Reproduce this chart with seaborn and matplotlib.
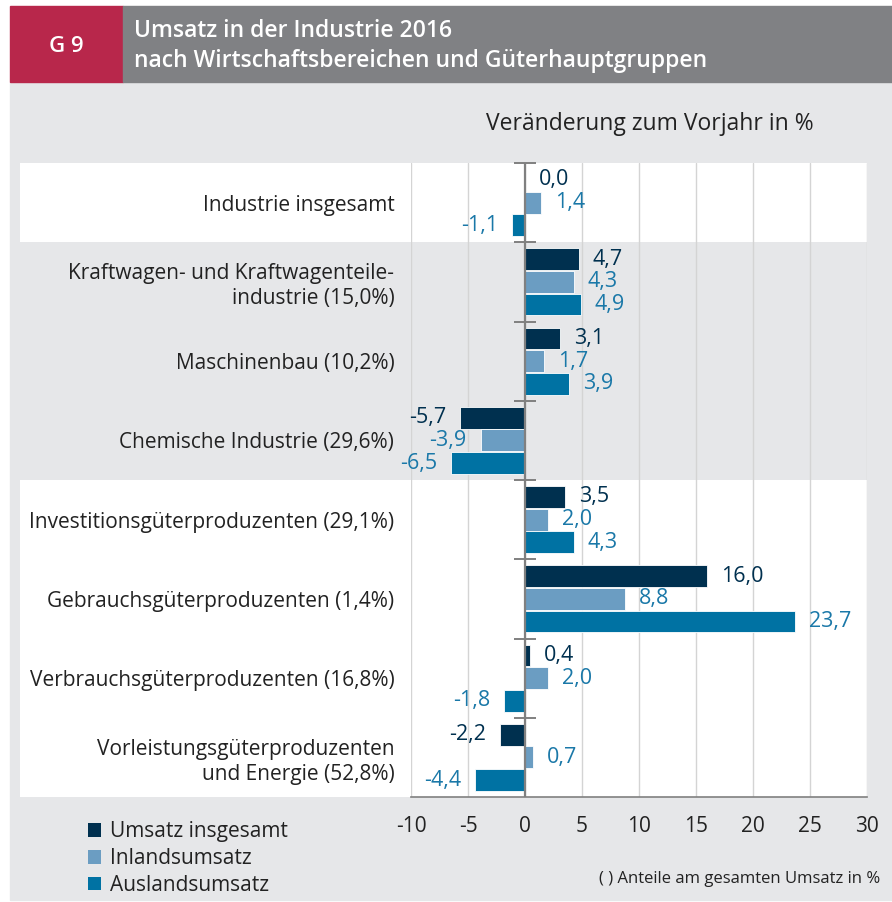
import numpy as np
import pandas as pd
import matplotlib
matplotlib.use("Agg")
import matplotlib.pyplot as plt
import matplotlib.transforms as mtransforms
from matplotlib.patches import Rectangle, Patch
import seaborn as sns

# data
bereiche = [
    "Industrie insgesamt",
    "Kraftwagen- und Kraftwagenteile-\nindustrie (15,0%)",
    "Maschinenbau (10,2%)",
    "Chemische Industrie (29,6%)",
    "Investitionsgüterproduzenten (29,1%)",
    "Gebrauchsgüterproduzenten (1,4%)",
    "Verbrauchsgüterproduzenten (16,8%)",
    "Vorleistungsgüterproduzenten\nund Energie (52,8%)",
]
umsatz = [0.0, 4.7, 3.1, -5.7, 3.5, 16.0, 0.4, -2.2]
inland = [1.4, 4.3, 1.7, -3.9, 2.0, 8.8, 2.0, 0.7]
ausland = [-1.1, 4.9, 3.9, -6.5, 4.3, 23.7, -1.8, -4.4]
serien = ["Umsatz insgesamt", "Inlandsumsatz", "Auslandsumsatz"]
xticks = [-10, -5, 0, 5, 10, 15, 20, 25, 30]

farben = ["#00304f", "#6b9dc2", "#0072a3"]
label_farben = ["#00304f", "#1a78a8", "#1a78a8"]
grau_bg = "#e6e7e9"
text_c = "#222222"

df = pd.DataFrame({
    "bereich": bereiche * 3,
    "art": np.repeat(serien, len(bereiche)),
    "wert": umsatz + inland + ausland,
})

sns.set_style("white")
plt.rcParams["font.family"] = ["Open Sans", "DejaVu Sans"]

fig = plt.figure(figsize=(8.92, 9.02), dpi=100)
fig.patch.set_facecolor("white")

W, H = 892, 902
def fx(px):
    return px / W
def fy(py):
    return 1 - py / H

# panel background and header
fig.patches.append(Rectangle((fx(10), fy(900)), fx(882), (900 - 82) / H,
                             transform=fig.transFigure, color=grau_bg, zorder=-5))
fig.patches.append(Rectangle((fx(10), fy(82)), fx(113), 76 / H,
                             transform=fig.transFigure, color="#b8274b", zorder=-4))
fig.patches.append(Rectangle((fx(123), fy(82)), fx(769), 76 / H,
                             transform=fig.transFigure, color="#808184", zorder=-4))
fig.text(fx(66), fy(46), "G 9", color="white", fontsize=16, fontweight="semibold",
         ha="center", va="center")
fig.text(fx(134), fy(31), "Umsatz in der Industrie 2016", color="white", fontsize=16.5,
         fontweight="semibold", ha="left", va="center")
fig.text(fx(134), fy(61), "nach Wirtschaftsbereichen und Güterhauptgruppen", color="white",
         fontsize=16.5, fontweight="semibold", ha="left", va="center")
fig.text(fx(650), fy(124), "Veränderung zum Vorjahr in %", color=text_c, fontsize=16.5,
         ha="center", va="center")

ax = fig.add_axes([fx(411), fy(797), fx(867 - 411), (797 - 163) / H])
ax.set_facecolor("none")

sns.barplot(data=df, x="wert", y="bereich", hue="art", hue_order=serien,
            palette=farben, saturation=1, orient="h", width=0.86, gap=0.04,
            edgecolor="white", linewidth=0.6, legend=False, ax=ax, zorder=3)

ax.set_xlim(-10, 30)
ax.set_ylim(len(bereiche) - 0.5, -0.5)
ax.set_xticks(xticks)
ax.set_xticklabels([str(t) for t in xticks], fontsize=15, color=text_c)
ax.set_xlabel("")
ax.set_ylabel("")
ax.tick_params(axis="y", length=0, pad=12)
ax.set_yticks(range(len(bereiche)))
ax.set_yticklabels(bereiche, fontsize=15, color=text_c, multialignment="right",
                   linespacing=1.25)
ax.tick_params(axis="x", direction="out", length=8, width=1.2, color="#808080", pad=6)

ax.set_axisbelow(True)
ax.grid(axis="x", color="#d4d4d4", lw=1)
ax.grid(axis="y", visible=False)
for s in ["top", "left", "right"]:
    ax.spines[s].set_visible(False)
ax.spines["bottom"].set_color("#808080")
ax.spines["bottom"].set_linewidth(1.2)

# white row bands reaching into the label area
tr = mtransforms.blended_transform_factory(fig.transFigure, ax.transData)
for i, weiss in enumerate([True, False, False, False, True, True, True, True]):
    if weiss:
        ax.add_patch(Rectangle((fx(20), i - 0.5), fx(867 - 20), 1, transform=tr,
                               facecolor="white", edgecolor="none", zorder=0,
                               clip_on=False))

# zero line with small ticks at the group borders
ax.axvline(0, color="#808080", lw=1.6, zorder=4)
grenzen = np.arange(len(bereiche)) - 0.5
ax.plot(np.zeros(len(grenzen)), grenzen, ls="none", marker="_", ms=16, mew=1.4,
        color="#808080", zorder=4, clip_on=False)

# value labels
for cont, lc in zip(ax.containers, label_farben):
    vals = [r.get_width() for r in cont]
    txt = [f"{v:.1f}".replace(".", ",") for v in vals]
    ax.bar_label(cont, labels=txt, padding=10, color=lc, fontsize=15.5)

# legend
handles = [Patch(facecolor=c, edgecolor="none") for c in farben]
fig.legend(handles, serien, loc="upper left", bbox_to_anchor=(fx(80), fy(813)),
           frameon=False, fontsize=15, handlelength=0.62, handleheight=0.62,
           handletextpad=0.4, labelspacing=0.28, borderaxespad=0)
for t in fig.legends[0].get_texts():
    t.set_color(text_c)

fig.text(fx(880), fy(879), "( ) Anteile am gesamten Umsatz in %", color=text_c,
         fontsize=12, ha="right", va="center")

fig.savefig("out.png", dpi=100)
